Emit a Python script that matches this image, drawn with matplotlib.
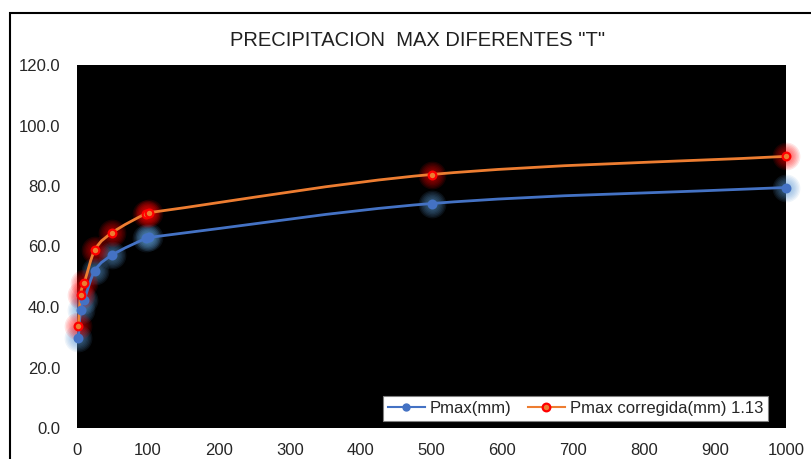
import numpy as np
import matplotlib.pyplot as plt
from matplotlib.path import Path
from matplotlib.patches import PathPatch, Rectangle

plt.rcParams['font.family'] = ['Liberation Sans', 'DejaVu Sans']

# datos
periodos = [2, 5, 10, 25, 50, 97, 102, 500, 1000]
pmax = [29.8, 39.0, 42.3, 52.0, 57.2, 62.7, 63.0, 74.2, 79.5]
pmax_corr = [33.7, 44.1, 47.8, 58.8, 64.6, 70.9, 71.2, 83.8, 89.8]
yticks = [0, 20, 40, 60, 80, 100, 120]
xticks = [0, 100, 200, 300, 400, 500, 600, 700, 800, 900, 1000]


def smooth_path(x, y):
    # curva suavizada (Hermite con pendiente central, como Bezier)
    x = np.asarray(x, float)
    y = np.asarray(y, float)
    h = np.diff(x)
    d = np.diff(y) / h
    m = np.zeros_like(y)
    m[0], m[-1] = d[0], d[-1]
    for i in range(1, len(x) - 1):
        m[i] = (y[i + 1] - y[i - 1]) / (x[i + 1] - x[i - 1])
        m[i] = min(m[i], 3 * d[i - 1], 3 * d[i])
    verts = [(x[0], y[0])]
    codes = [Path.MOVETO]
    for i in range(len(x) - 1):
        verts += [(x[i] + h[i] / 3, y[i] + m[i] * h[i] / 3),
                  (x[i + 1] - h[i] / 3, y[i + 1] - m[i + 1] * h[i] / 3),
                  (x[i + 1], y[i + 1])]
        codes += [Path.CURVE4] * 3
    return Path(verts, codes)


fig = plt.figure(figsize=(8.11, 4.59), dpi=100)
fig.patches.append(Rectangle((10 / 811, -0.1), 1.2, (459 - 13) / 459 + 0.1,
                             transform=fig.transFigure, fill=False,
                             edgecolor='black', linewidth=1.5))
ax = fig.add_axes([77 / 811, 31 / 459, 709 / 811, 363 / 459])
ax.set_facecolor('black')

azul = '#4472C4'
naranja = '#ED7D31'

for y, col, mface, medge, glow in [(pmax, azul, azul, azul, '#5B9BD5'),
                                   (pmax_corr, naranja, naranja, 'red', 'red')]:
    # brillo
    for s in range(20, 7, -2):
        ax.plot(periodos, y, 'o', ms=s, color=glow, alpha=0.1, mew=0,
                zorder=2, clip_on=False)
    ax.add_patch(PathPatch(smooth_path(periodos, y), fill=False,
                           edgecolor=col, linewidth=2, zorder=3))
    ax.plot(periodos, y, 'o', ms=5.5, mfc=mface, mec=medge, mew=1.6,
            zorder=4, clip_on=False)

h1, = ax.plot([], [], '-o', color=azul, ms=5, mfc=azul, mec=azul)
h2, = ax.plot([], [], '-o', color=naranja, ms=5.5, mfc=naranja, mec='red', mew=1.6)

ax.set_xlim(0, 1000)
ax.set_ylim(0, 120)
ax.set_xticks(xticks)
ax.set_yticks(yticks)
ax.set_yticklabels(['%.1f' % v for v in yticks])
ax.tick_params(length=0, labelsize=12, colors='#262626')
ax.tick_params(axis='y', pad=12)
ax.tick_params(axis='x', pad=11)
for s in ax.spines.values():
    s.set_visible(False)

fig.text(418 / 811, 1 - 40 / 459, 'PRECIPITACION  MAX DIFERENTES "T"',
         ha='center', va='center', fontsize=14.5, color='#202020')

leg = ax.legend([h1, h2], ['Pmax(mm)', 'Pmax corregida(mm) 1.13'], ncol=2,
                loc='lower right', bbox_to_anchor=(768 / 811, (459 - 421) / 459),
                bbox_transform=fig.transFigure, fontsize=12, frameon=True,
                fancybox=False, framealpha=1, borderpad=0.3, handlelength=2.2,
                columnspacing=1.0, handletextpad=0.3, borderaxespad=0)
leg.get_frame().set_edgecolor('#808080')
leg.get_frame().set_linewidth(0.8)
for t in leg.get_texts():
    t.set_color('#262626')

fig.savefig('out.png', dpi=100)
